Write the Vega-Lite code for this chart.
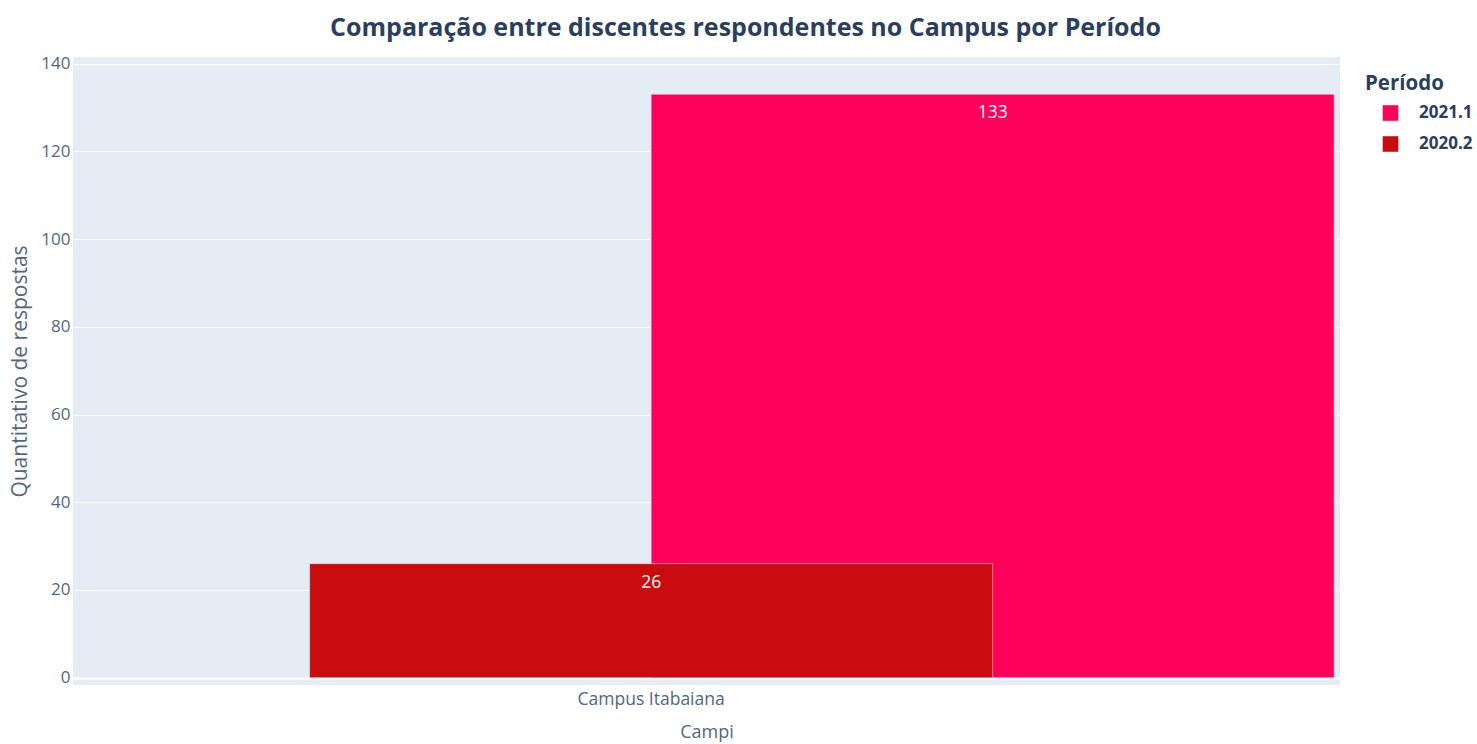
{
  "$schema": "https://vega.github.io/schema/vega-lite/v6.json",
  "width": 1267,
  "height": 628,
  "autosize": {"type": "none"},
  "padding": {"left": 73, "top": 57, "right": 137, "bottom": 59},
  "background": "white",
  "config": {
    "font": "Open Sans",
    "view": {"fill": "#E5ECF6", "stroke": null}
  },
  "title": {
    "text": "Comparação entre discentes respondentes no Campus por Período",
    "fontSize": 25,
    "fontWeight": "bold",
    "color": "#2a3f5f",
    "anchor": "middle",
    "dx": 39,
    "offset": 14
  },
  "data": {
    "values": [
      {"campus": "Campus Itabaiana", "periodo": "2021.1", "respostas": 133},
      {"campus": "Campus Itabaiana", "periodo": "2020.2", "respostas": 26}
    ]
  },
  "encoding": {
    "x": {
      "field": "campus",
      "type": "nominal",
      "title": "Campi",
      "scale": {"paddingInner": 0, "paddingOuter": 0.4275, "align": 0.99},
      "axis": {
        "labelOffset": {"expr": "-bandwidth('x')/2"},
        "domain": false,
        "ticks": false,
        "grid": false,
        "labelAngle": 0,
        "labelFontSize": 17.5,
        "labelColor": "#506784",
        "labelPadding": 5,
        "titleFontSize": 18,
        "titleFontWeight": "normal",
        "titleColor": "#506784",
        "titlePadding": 16
      }
    },
    "xOffset": {
      "field": "periodo",
      "type": "nominal",
      "scale": {"domain": ["2020.2", "2021.1"], "paddingInner": 0, "paddingOuter": 0}
    },
    "y": {
      "field": "respostas",
      "type": "quantitative",
      "title": "Quantitativo de respostas",
      "scale": {"domain": [-1.66, 141.5], "nice": false, "zero": false},
      "axis": {
        "values": [0, 20, 40, 60, 80, 100, 120, 140],
        "domain": false,
        "ticks": false,
        "gridColor": "white",
        "gridOpacity": 1,
        "gridWidth": {"condition": {"test": "datum.value === 0", "value": 2}, "value": 1},
        "labelFontSize": 17,
        "labelColor": "#506784",
        "labelPadding": 3,
        "titleFontSize": 21,
        "titleFontWeight": "normal",
        "titleColor": "#506784",
        "titlePadding": 10
      }
    }
  },
  "layer": [
    {
      "mark": {
        "type": "bar",
        "width": {"band": 2},
        "stroke": "#E5ECF6",
        "strokeWidth": 0.5
      },
      "encoding": {
        "color": {
          "field": "periodo",
          "type": "nominal",
          "title": "Período",
          "scale": {"domain": ["2021.1", "2020.2"], "range": ["#FF005A", "#C80C10"]},
          "legend": {
            "orient": "none",
            "legendX": 1292,
            "legendY": 17,
            "titleFontSize": 20.5,
            "titleFontWeight": "bold",
            "titleColor": "#2a3f5f",
            "labelFontSize": 17,
            "labelFontWeight": "bold",
            "labelColor": "#2a3f5f",
            "symbolType": "square",
            "symbolSize": 256,
            "symbolStrokeWidth": 0.5,
            "symbolStrokeColor": "#E5ECF6",
            "symbolOpacity": 1,
            "symbolOffset": 17,
            "labelOffset": 20,
            "rowPadding": 12,
            "titlePadding": 10
          }
        }
      }
    },
    {
      "mark": {
        "type": "text",
        "baseline": "middle",
        "dy": 19,
        "dx": {"expr": "-bandwidth('xOffset')/2"},
        "fontSize": 17.5,
        "color": "white"
      },
      "encoding": {"text": {"field": "respostas", "type": "quantitative"}}
    }
  ]
}
